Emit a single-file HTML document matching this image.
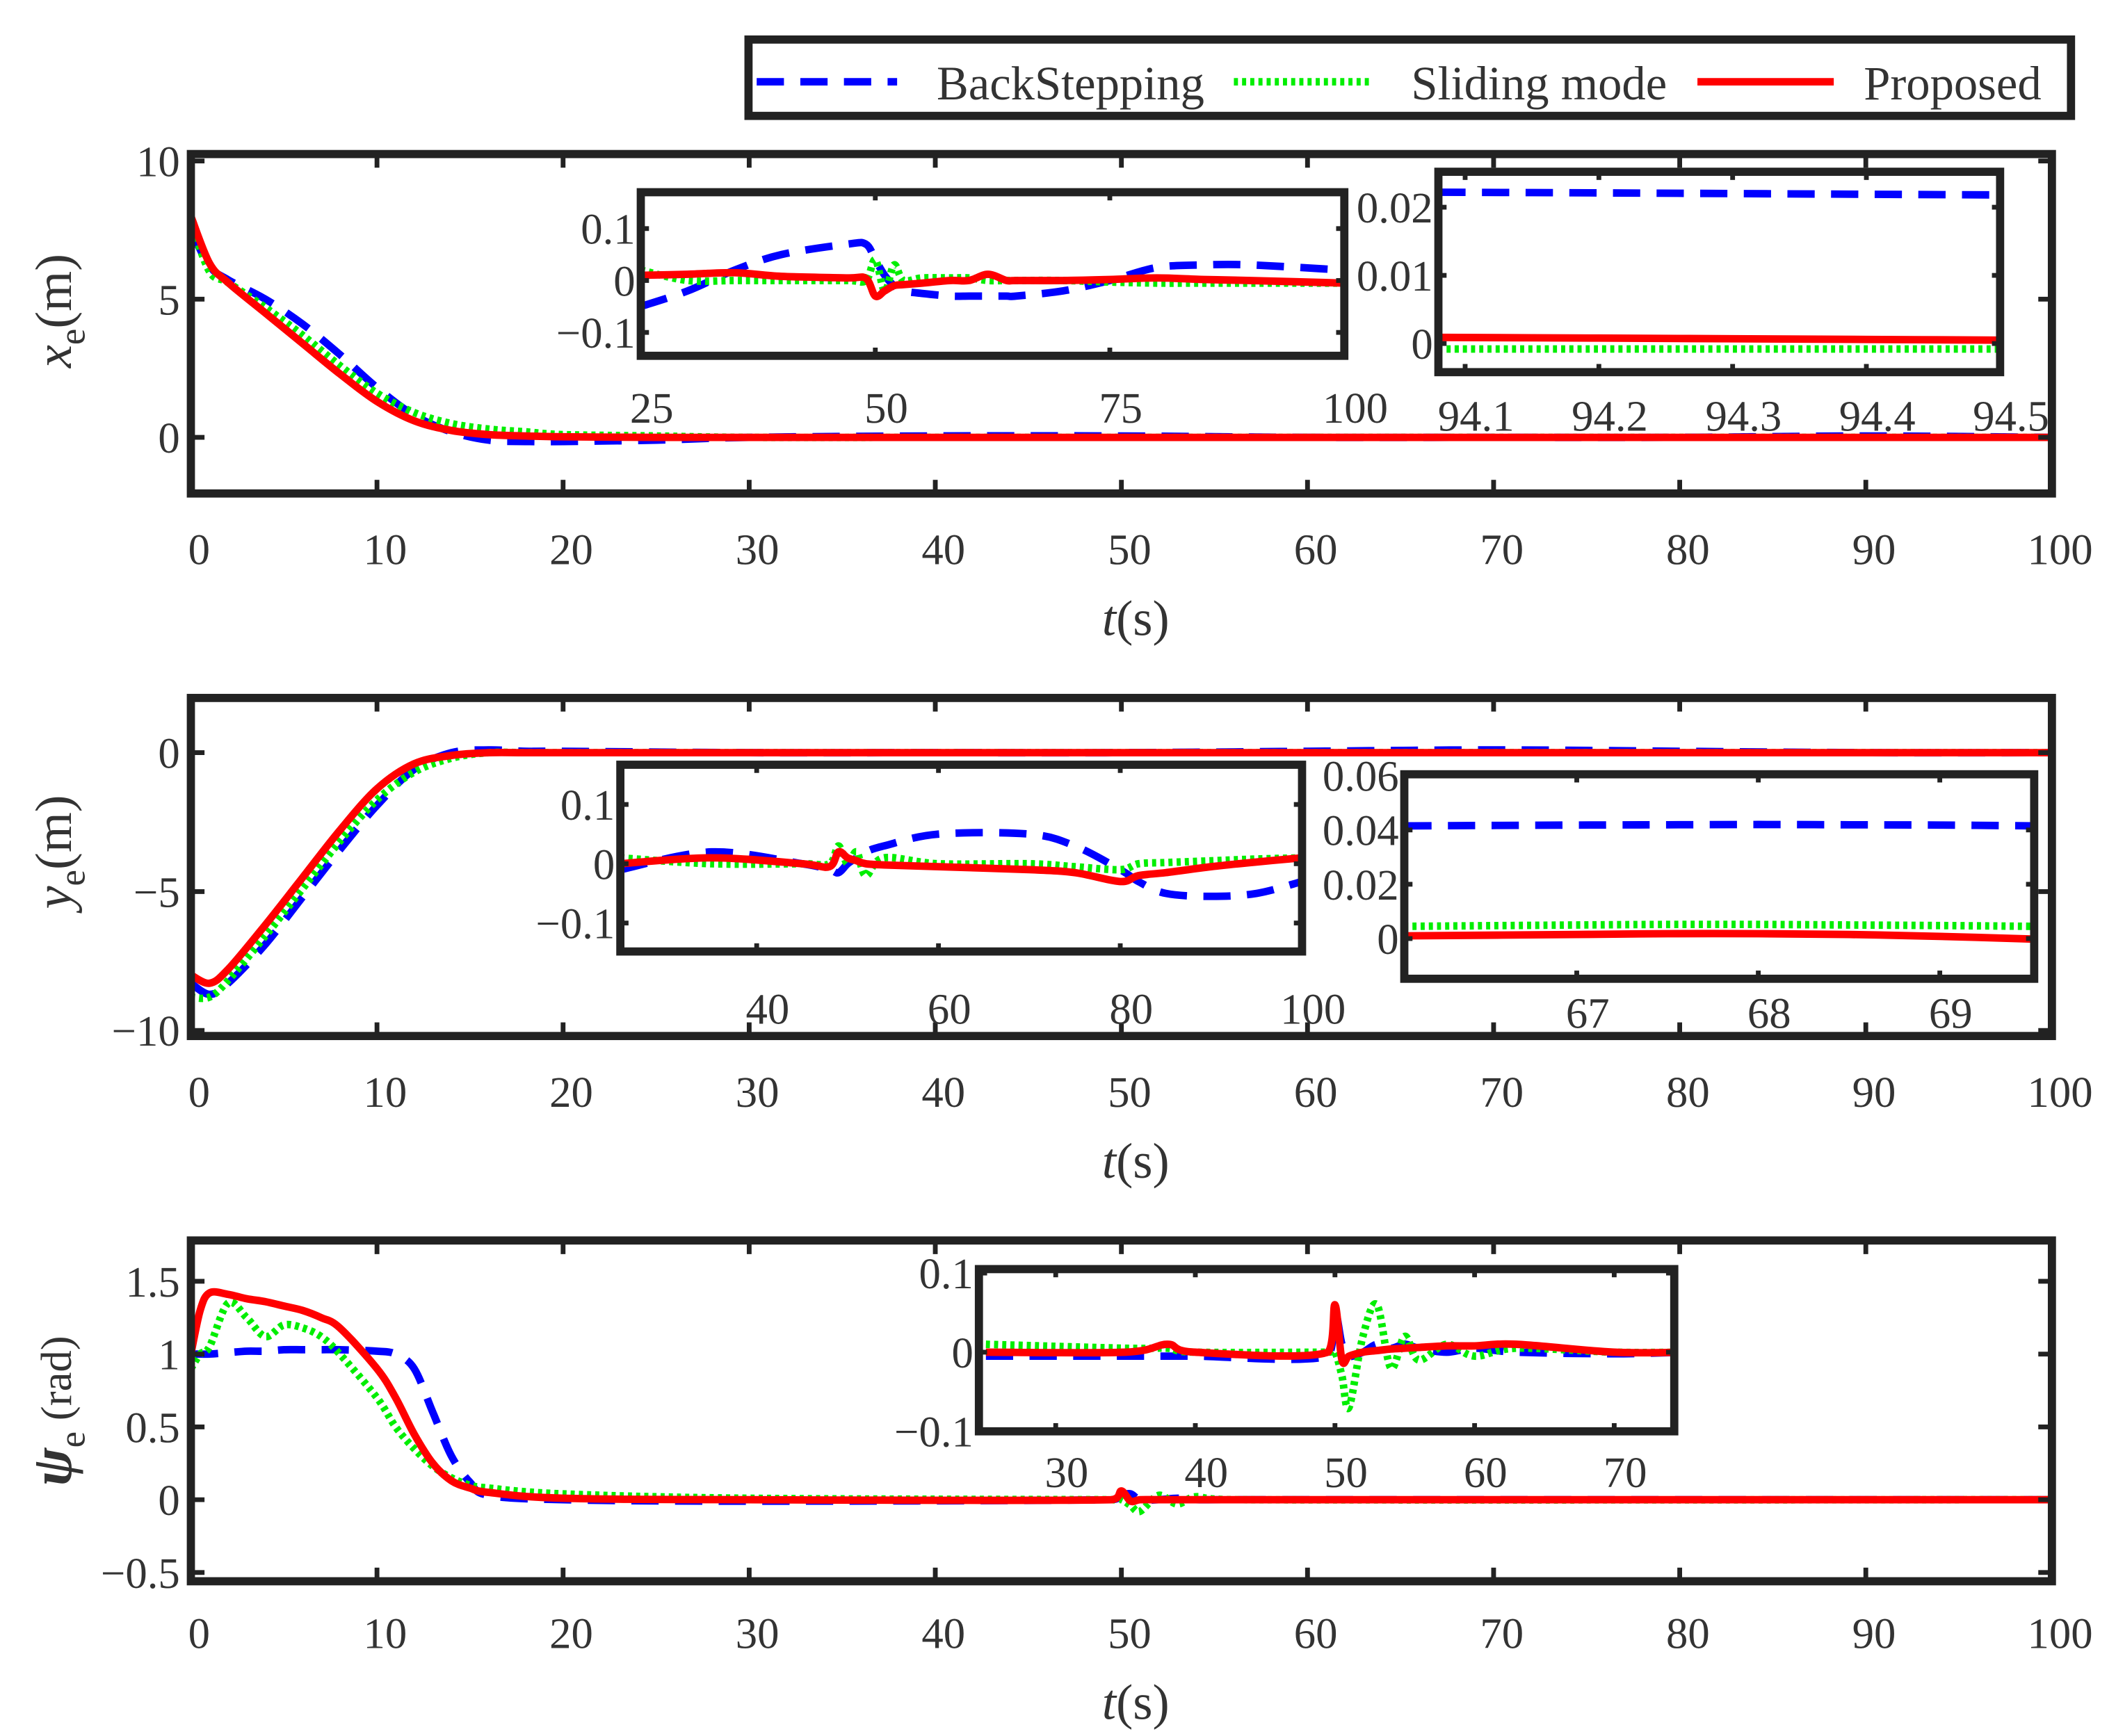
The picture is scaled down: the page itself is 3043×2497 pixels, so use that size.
<!DOCTYPE html>
<html><head><meta charset="utf-8"><style>
html,body{margin:0;padding:0;background:#fff;}
svg{display:block;}
text{font-family:"Liberation Serif",serif;fill:#333;}
</style></head><body>
<svg id="chart" width="3043" height="2497" viewBox="0 0 1552 1273.5" xmlns="http://www.w3.org/2000/svg">
<g id="legend">
<rect x="549" y="29" width="970" height="56" fill="#fff" stroke="#222" stroke-width="6"/>
<line x1="555" y1="60" x2="658" y2="60" stroke="#0000ff" stroke-width="5.5" stroke-dasharray="20,12"/>
<text x="687" y="73" font-size="35">BackStepping</text>
<line x1="905" y1="60" x2="1005" y2="60" stroke="#00ee00" stroke-width="5.5" stroke-dasharray="3,3"/>
<text x="1035" y="73" font-size="35">Sliding mode</text>
<line x1="1245" y1="60" x2="1345" y2="60" stroke="#ff0000" stroke-width="5.5"/>
<text x="1367" y="73" font-size="35">Proposed</text>
</g>
</svg>
<script>
// ---------- data ----------
const p1T = [0,1,2,4,6,8,10,12,14,16,18,20,25,30,40,50,60,70,80,90,100];
const p1Red = [8,6.3,5.6,4.5,3.4,2.3,1.3,0.6,0.25,0.1,0.05,0.02,0,0,0,0,0,0,0,0,0];
const p1Blue = [7.5,6.2,5.7,5.0,4.1,3.0,1.8,0.8,0.2,-0.1,-0.15,-0.15,-0.1,0,0.05,0.05,0,0,0,0.05,0];
const p1Green = [7.8,6.0,5.6,4.7,3.7,2.6,1.6,0.9,0.5,0.3,0.2,0.1,0.05,0,0,0,0,0,0,0,0];
const p1Ticks = [0,5,10];

const p1aT = [25,30,35,40,47,49,50,51,52,53,55,58,60,62,64,65,70,75,80,85,90,100];
const p1aRed = [0.01,0.012,0.015,0.008,0.005,0.004,-0.03,-0.02,-0.01,-0.008,-0.005,0,0,0.012,0,0,0,0.002,0.005,0.002,0,-0.005];
const p1aBlue = [-0.05,-0.02,0.02,0.05,0.07,0.07,0.04,0.01,-0.01,-0.02,-0.025,-0.03,-0.03,-0.03,-0.03,-0.03,-0.02,0,0.025,0.03,0.03,0.02];
const p1aGreen = [0.02,0,0,0,0,0,0.04,-0.02,0.03,0,0.005,0.005,0.005,0,0,0,0,-0.003,-0.005,-0.005,-0.005,-0.005];
const p1aTicks = [-0.1,0,0.1];
const p1aXTicks = [25,50,75,100];

const p1bT = [94.08,94.2,94.3,94.4,94.5];
const p1bRed = [0.0009,0.0008,0.0007,0.0006,0.0005];
const p1bBlue = [0.0222,0.0221,0.022,0.0219,0.0218];
const p1bGreen = [-0.0008,-0.0008,-0.0008,-0.0008,-0.0008];
const p1bTicks = [0,0.01,0.02];
const p1bXTicks = [94.1,94.2,94.3,94.4,94.5];

const p2T = [0,1,2,4,6,8,10,12,14,16,18,20,30,40,50,60,70,80,90,100];
const p2Red = [-8,-8.3,-7.8,-6.2,-4.5,-2.8,-1.3,-0.4,-0.1,0,0,0,0,0,0,0,0,0,0,0];
const p2Blue = [-8.3,-8.7,-8.3,-6.9,-5.2,-3.5,-1.9,-0.6,0,0.1,0.05,0.05,0,0,0,0.05,0.1,0.05,0,0];
const p2Green = [-8.8,-8.8,-8.2,-6.6,-4.9,-3.2,-1.7,-0.7,-0.2,0,0,0,0,0,0,0,0,0,0,0];
const p2Ticks = [-10,-5,0];

const p2aT = [25,35,45,48,49,50,51,52,54,60,70,75,80,82,85,90,95,100];
const p2aRed = [0,0.01,0,-0.005,0.02,0.01,0.005,0,-0.002,-0.005,-0.01,-0.015,-0.03,-0.02,-0.015,-0.005,0.003,0.01];
const p2aBlue = [-0.01,0.02,0,-0.01,-0.015,0,0.01,0.02,0.03,0.05,0.05,0.03,-0.01,-0.03,-0.05,-0.055,-0.05,-0.03];
const p2aGreen = [0.01,0,0,0,0.03,0,0.02,-0.02,0.01,0,0,-0.005,-0.01,0,0.002,0.005,0.008,0.01];
const p2aTicks = [-0.1,0,0.1];
const p2aXTicks = [40,60,80,100];

const p2bT = [66.05,67,67.5,68,68.5,69,69.52];
const p2bRed = [0.001,0.0015,0.0018,0.0018,0.0015,0.0008,-0.0002];
const p2bBlue = [0.0415,0.0418,0.0419,0.042,0.0419,0.0418,0.0415];
const p2bGreen = [0.0045,0.005,0.0052,0.0052,0.005,0.0048,0.0045];
const p2bTicks = [0,0.02,0.04,0.06];
const p2bXTicks = [67,68,69];

const p3T = [0,0.5,1,2,3,4,5,6,7,8,10,11,12,13,14,15,16,20,30,49.5,50,50.5,51,52,53,54,56,100];
const p3Red = [1.0,1.3,1.42,1.41,1.38,1.36,1.33,1.3,1.25,1.18,0.9,0.7,0.45,0.25,0.13,0.08,0.05,0.01,0,0,0.06,-0.01,0,0,0,0,0,0];
const p3Blue = [1.0,1.0,1.0,1.01,1.02,1.02,1.03,1.03,1.03,1.03,1.02,1.0,0.9,0.6,0.3,0.12,0.03,0,-0.01,0,0.03,0.04,0,0,0.01,0,0,0];
const p3Green = [0.9,1.0,1.05,1.35,1.25,1.12,1.2,1.18,1.12,1.0,0.7,0.5,0.35,0.23,0.15,0.1,0.08,0.04,0.01,0,0,-0.04,-0.08,0.03,-0.03,0.02,0,0];
const p3Ticks = [-0.5,0,0.5,1,1.5];

const p3aT = [25,35,38,40,49.5,50,50.5,51,52,53,54,55,56,58,60,63,70,75];
const p3aRed = [0,0,0.01,0,0,0.06,-0.01,-0.005,0,0.002,0.004,0.005,0.006,0.008,0.008,0.01,0,0];
const p3aBlue = [-0.005,-0.005,-0.005,-0.005,-0.005,0.05,0.01,-0.005,0,0.01,0.005,0.01,0.005,0,0.005,0,-0.002,0];
const p3aGreen = [0.01,0.005,0.005,0,0,0,-0.03,-0.07,0.02,0.06,-0.02,0.02,-0.01,0.01,-0.005,0.005,0,0];
const p3aTicks = [-0.1,0,0.1];
const p3aXTicks = [30,40,50,60,70];

const mainXTicks = [0,10,20,30,40,50,60,70,80,90,100];

// ---------- drawing ----------
const NS = 'http://www.w3.org/2000/svg';
const svg = document.getElementById('chart');
let clipId = 0;
function mk(tag, attrs, parent){ const e=document.createElementNS(NS,tag); for(const k in attrs) e.setAttribute(k,attrs[k]); (parent||svg).appendChild(e); return e; }
function scale(d0,d1,r0,r1){ return v => r0+(v-d0)/(d1-d0)*(r1-r0); }

function drawAxes(name, box, xd, yd, xTicks, yTicks, opts){
  const g = mk('g',{});
  
  
  const sx = scale(xd[0],xd[1],box.x0,box.x1), sy = scale(yd[0],yd[1],box.y1,box.y0);
  mk('rect',{x:box.x0,y:box.y0,width:box.x1-box.x0,height:box.y1-box.y0,fill:'#fff'},g);
  const cid='clip'+(clipId++);
  const cp = mk('clipPath',{id:cid},g);
  mk('rect',{x:box.x0,y:box.y0,width:box.x1-box.x0,height:box.y1-box.y0},cp);
  const lines = mk('g',{'clip-path':'url(#'+cid+')'},g);
  const tl = opts.tickLen;
  xTicks.forEach(t=>{
    const x=sx(t);
    mk('line',{x1:x,y1:box.y1,x2:x,y2:box.y1-tl,stroke:'#222','stroke-width':3.5},g);
    mk('line',{x1:x,y1:box.y0,x2:x,y2:box.y0+tl,stroke:'#222','stroke-width':3.5},g);
    const tx = mk('text',{x:x+opts.xOff,y:opts.xLabelY,'font-size':opts.fs,'text-anchor':'middle'},g);
    
    
    tx.textContent = String(t);
  });
  yTicks.forEach(t=>{
    const y=sy(t);
    mk('line',{x1:box.x0,y1:y,x2:box.x0+tl,y2:y,stroke:'#222','stroke-width':3.5},g);
    mk('line',{x1:box.x1,y1:y,x2:box.x1-tl,y2:y,stroke:'#222','stroke-width':3.5},g);
    const tx = mk('text',{x:box.x0-opts.yGap,y:y+opts.fs*0.35,'font-size':opts.fs,'text-anchor':'end'},g);
    
    
    tx.textContent = (t<0?'\u2212':'')+String(Math.abs(t));
  });
  return {g,lines,sx,sy,box};
}
function smoothPath(P){
  let d='M'+P[0][0].toFixed(2)+','+P[0][1].toFixed(2);
  for(let i=0;i<P.length-1;i++){
    const p0=P[Math.max(0,i-1)],p1=P[i],p2=P[i+1],p3=P[Math.min(P.length-1,i+2)];
    const k=1/6;
    const c1=[p1[0]+(p2[0]-p0[0])*k, p1[1]+(p2[1]-p0[1])*k];
    const c2=[p2[0]-(p3[0]-p1[0])*k, p2[1]-(p3[1]-p1[1])*k];
    c1[0]=Math.min(Math.max(c1[0],p1[0]),p2[0]); c2[0]=Math.min(Math.max(c2[0],p1[0]),p2[0]);
    d+=' C'+c1[0].toFixed(2)+','+c1[1].toFixed(2)+' '+c2[0].toFixed(2)+','+c2[1].toFixed(2)+' '+p2[0].toFixed(2)+','+p2[1].toFixed(2);
  }
  return d;
}
function series(ax, name, T, V, color, dash){
  const P = T.map((t,i)=>[ax.sx(t), ax.sy(V[i])]);
  const p = mk('path',{d:smoothPath(P),fill:'none',stroke:color,'stroke-width':5.5,'stroke-linejoin':'round'},ax.lines);
  if(dash) p.setAttribute('stroke-dasharray',dash);
  
  
}
function frame(ax){
  const b=ax.box;
  mk('rect',{x:b.x0,y:b.y0,width:b.x1-b.x0,height:b.y1-b.y0,fill:'none',stroke:'#222','stroke-width':6},ax.g);
}
function plotAll(ax, prefix, T, R, B, G){
  series(ax, prefix+'-backstepping', T, B, '#0000ff', '20,12');
  series(ax, prefix+'-sliding-mode', T, G, '#00ee00', '3,3');
  series(ax, prefix+'-proposed', T, R, '#ff0000', null);
  frame(ax);
}
const mainOpts = {tickLen:10, fs:32, yGap:8, xOff:6};
const insOpts = (y)=>({tickLen:6, fs:32, yGap:4, xOff:8, xLabelY:y});

// Panel 1
let a = drawAxes('xe-panel',{x0:140,x1:1505,y0:113,y1:362},[0,100],[-2.03,10.25],mainXTicks,p1Ticks,Object.assign({xLabelY:414},mainOpts));
plotAll(a,'xe',p1T,p1Red,p1Blue,p1Green);
a = drawAxes('xe-inset-1',{x0:470,x1:986,y0:141,y1:261},[25,100],[-0.145,0.17],p1aXTicks,p1aTicks,insOpts(310));
plotAll(a,'xe-inset-1',p1aT,p1aRed,p1aBlue,p1aGreen);
a = drawAxes('xe-inset-2',{x0:1055,x1:1467,y0:126,y1:273},[94.08,94.5],[-0.0042,0.0252],p1bXTicks,p1bTicks,insOpts(316));
plotAll(a,'xe-inset-2',p1bT,p1bRed,p1bBlue,p1bGreen);

// Panel 2
a = drawAxes('ye-panel',{x0:140,x1:1505,y0:512,y1:760},[0,100],[-10.2,1.97],mainXTicks,p2Ticks,Object.assign({xLabelY:812},mainOpts));
plotAll(a,'ye',p2T,p2Red,p2Blue,p2Green);
a = drawAxes('ye-inset-1',{x0:455,x1:955,y0:561,y1:698},[25,100],[-0.148,0.167],p2aXTicks,p2aTicks,insOpts(751));
plotAll(a,'ye-inset-1',p2aT,p2aRed,p2aBlue,p2aGreen);
a = drawAxes('ye-inset-2',{x0:1030,x1:1492,y0:568,y1:718},[66.05,69.52],[-0.0148,0.0605],p2bXTicks,p2bTicks,insOpts(754));
plotAll(a,'ye-inset-2',p2bT,p2bRed,p2bBlue,p2bGreen);

// Panel 3
a = drawAxes('psie-panel',{x0:140,x1:1505,y0:910,y1:1160},[0,100],[-0.56,1.78],mainXTicks,p3Ticks,Object.assign({xLabelY:1209},mainOpts));
plotAll(a,'psie',p3T,p3Red,p3Blue,p3Green);
a = drawAxes('psie-inset',{x0:718,x1:1228,y0:931,y1:1050},[24.5,74.3],[-0.1,0.105],p3aXTicks,p3aTicks,insOpts(1091));
plotAll(a,'psie-inset',p3aT,p3aRed,p3aBlue,p3aGreen);

// axis titles
[[466,'x-axis-title-1'],[864,'x-axis-title-2'],[1261,'x-axis-title-3']].forEach(([y,n])=>{
  const t = mk('text',{x:833,y:y,'font-size':37,'text-anchor':'middle'});
  
  
  t.innerHTML = '<tspan font-style="italic">t</tspan>(s)';
});
function ylab(n, cx, cy, html){
  const t = mk('text',{x:0,y:0,'font-size':38,'text-anchor':'middle',transform:'translate('+cx+','+cy+') rotate(-90)'});
  
  
  t.innerHTML = html;
}
ylab('y-axis-title-1',52,228,'<tspan font-style="italic">x</tspan><tspan font-size="27" dy="10">e</tspan><tspan dy="-10">(m)</tspan>');
ylab('y-axis-title-2',52,625,'<tspan font-style="italic">y</tspan><tspan font-size="27" dy="10">e</tspan><tspan dy="-10">(m)</tspan>');
ylab('y-axis-title-3',52,1035,'<tspan font-style="italic" font-weight="bold" font-size="42">\u03C8</tspan><tspan font-size="27" dy="10">e</tspan><tspan dy="-10" font-size="32"> (rad)</tspan>');
// keep legend on top
svg.appendChild(document.getElementById('legend'));
</script>
</body></html>
